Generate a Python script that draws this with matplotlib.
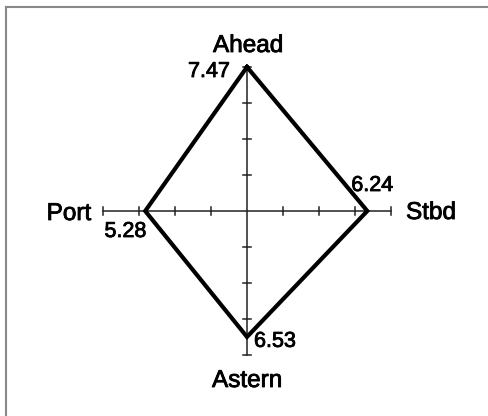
import numpy as np
import matplotlib
matplotlib.use('Agg')
from matplotlib import pyplot as plt
from matplotlib.lines import Line2D
import matplotlib.patheffects as pe

directions = ['Ahead', 'Stbd', 'Astern', 'Port']
values = [7.47, 6.24, 6.53, 5.28]
# unit vectors for each direction on the plot
dir_x = [0, 1, 0, -1]
dir_y = [1, 0, -1, 0]

plt.rcParams['font.family'] = ['Liberation Sans', 'DejaVu Sans']

W, H = 488, 416
cx, cy = 247, 211          # centre of the cross, pixels from top-left
half = 144                 # half length of each axis in pixels
vmax = max(values)
s = half / vmax            # pixels per unit

fig = plt.figure(figsize=(W / 100, H / 100), dpi=100)
ax = fig.add_axes([0, 0, 1, 1])
ax.set_xlim(-cx / s, (W - cx) / s)
ax.set_ylim(-(H - cy) / s, cy / s)
ax.axis('off')

# thin gray frame on top and left
fig.add_artist(Line2D([6 / W, 6 / W], [0, 1 - 7 / H], color='#888888', lw=1.5))
fig.add_artist(Line2D([6 / W, 1], [1 - 7 / H, 1 - 7 / H], color='#888888', lw=1.5))

# axes cross with ticks
ax.plot([-vmax, vmax], [0, 0], color='#222222', lw=1.1)
ax.plot([0, 0], [-vmax, vmax], color='#222222', lw=1.1)
tk = 4 / s
for t in np.linspace(-vmax, vmax, 9):
    if t == 0:
        continue
    ax.plot([t, t], [-tk, tk], color='#222222', lw=1.1)
    ax.plot([-tk, tk], [t, t], color='#222222', lw=1.1)

# diamond
px = [v * dx for v, dx in zip(values, dir_x)]
py = [v * dy for v, dy in zip(values, dir_y)]
ax.plot(px + px[:1], py + py[:1], color='black', lw=3, solid_joinstyle='miter')

bold = [pe.withStroke(linewidth=0.6, foreground='black')]

# value labels: (offset px, ha)
val_pos = {
    'Ahead': ((-17, -10), 'right'),
    'Stbd': ((-16, 20), 'left'),
    'Astern': ((7, -10), 'left'),
    'Port': ((1, -26), 'right'),
}
for name, v, x, y in zip(directions, values, px, py):
    off, ha = val_pos[name]
    ax.annotate(f'{v:.2f}', (x, y), xytext=off, textcoords='offset pixels',
                ha=ha, va='baseline', fontsize=15.5, color='black',
                path_effects=bold)

# direction labels at the axis ends
dir_pos = {
    'Ahead': ((1, 15), 'center'),
    'Stbd': ((15, -8), 'left'),
    'Astern': ((0, -32), 'center'),
    'Port': ((-12, -9), 'right'),
}
for name, dx, dy in zip(directions, dir_x, dir_y):
    off, ha = dir_pos[name]
    ax.annotate(name, (dx * vmax, dy * vmax), xytext=off, textcoords='offset pixels',
                ha=ha, va='baseline', fontsize=17.5, color='black',
                path_effects=bold)

fig.savefig('out.png', dpi=100)
